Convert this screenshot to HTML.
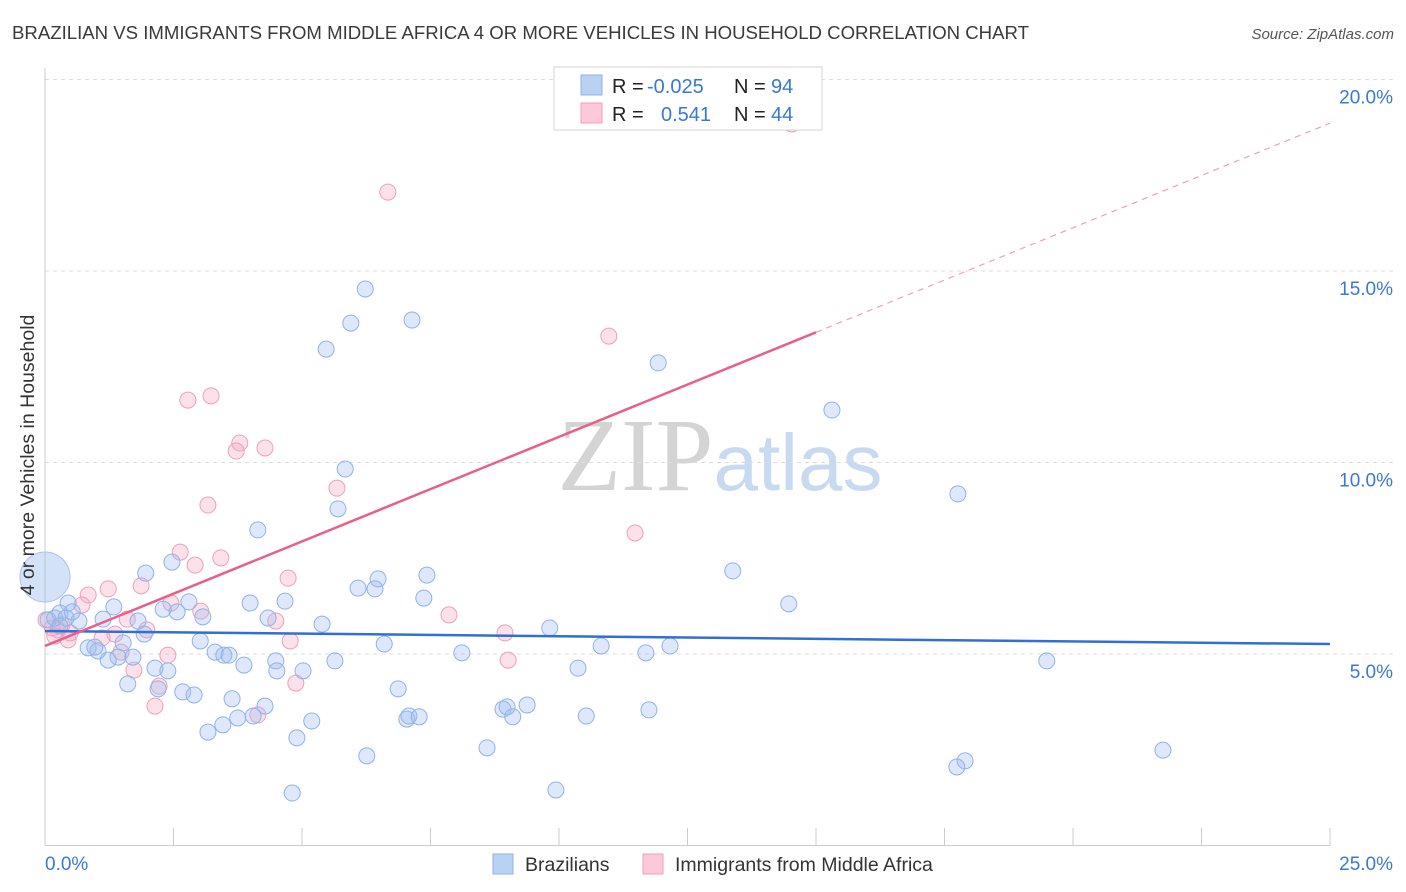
<!DOCTYPE html>
<html><head><meta charset="utf-8">
<style>
body{margin:0;background:#fff;font-family:"Liberation Sans",sans-serif;}
svg{display:block}
</style></head>
<body>
<svg id="chart" width="1406" height="892" xmlns="http://www.w3.org/2000/svg" font-family="Liberation Sans, sans-serif">
<text x="12" y="39" font-size="18.6" fill="#3a3a3a">BRAZILIAN VS IMMIGRANTS FROM MIDDLE AFRICA 4 OR MORE VEHICLES IN HOUSEHOLD CORRELATION CHART</text>
<text x="1394" y="39" font-size="15" fill="#555" text-anchor="end" font-style="italic">Source: ZipAtlas.com</text>
<text x="720" y="490" font-size="104" text-anchor="middle"><tspan fill="#d4d4d4" font-family="Liberation Serif, serif">ZIP</tspan><tspan fill="#c8daf2" font-size="80">atlas</tspan></text>
<g id="grid"></g>
<g id="axes"></g>
<g id="marks"></g>
<text transform="translate(34,455) rotate(-90)" font-size="19.5" fill="#333" text-anchor="middle">4 or more Vehicles in Household</text>
<g>
<rect x="554" y="67" width="268" height="63" fill="#fff" stroke="#d4d4d4"/>
<rect x="581" y="75" width="21" height="20" fill="#b9d2f4" stroke="#8fb3e8"/>
<rect x="581" y="103" width="21" height="20" fill="#fbc9d9" stroke="#f0a0bb"/>
<text x="612" y="93" font-size="20" fill="#222">R = <tspan fill="#3a78d4" x="647">-0.025</tspan></text>
<text x="734" y="93" font-size="20" fill="#222">N = <tspan fill="#3a78d4" x="771">94</tspan></text>
<text x="612" y="121" font-size="20" fill="#222">R = <tspan fill="#3a78d4" x="661">0.541</tspan></text>
<text x="734" y="121" font-size="20" fill="#222">N = <tspan fill="#3a78d4" x="771">44</tspan></text>
</g>
<g>
<rect x="493" y="854" width="20" height="20" fill="#b9d2f4" stroke="#8fb3e8"/>
<text x="525" y="871" font-size="19.5" fill="#333">Brazilians</text>
<rect x="643" y="854" width="20" height="20" fill="#fbc9d9" stroke="#f0a0bb"/>
<text x="675" y="871" font-size="19.5" fill="#333">Immigrants from Middle Africa</text>
</g>
</svg>
<script>
const blueX=[6.23,5.95,7.14,5.47,11.93,15.31,5.84,17.76,5.70,4.14,1.96,2.47,13.38,7.43,6.48,6.09,6.42,7.37,14.47,3.99,4.67,2.80,2.30,1.34,2.57,3.07,0.45,0.29,0.66,1.13,1.81,5.39,4.34,9.82,1.93,3.02,1.52,0.84,1.03,0.97,1.42,1.23,1.71,3.31,3.48,3.58,6.60,8.11,10.82,11.69,12.16,19.49,2.14,2.39,3.87,4.49,5.64,10.37,4.51,5.02,1.61,2.20,2.68,2.90,3.64,4.28,6.87,8.91,8.99,9.38,9.10,11.75,10.53,7.04,7.08,7.28,3.75,4.05,3.46,3.17,5.19,4.90,6.26,8.60,21.75,17.90,17.74,4.81,9.94,0.06,0.19,0.41,0.53,0.29];
const blueY=[14.53,13.64,13.72,12.96,12.60,11.37,9.83,9.18,8.79,8.24,7.11,7.40,7.17,7.06,6.96,6.72,6.70,6.46,6.31,6.33,6.38,6.36,6.17,6.23,6.10,5.97,6.33,6.07,5.86,5.91,5.86,5.78,5.94,5.68,5.52,5.34,5.29,5.16,5.08,5.18,4.92,4.84,4.92,5.05,4.97,4.97,5.26,5.03,5.21,5.03,5.21,4.82,4.63,4.56,4.71,4.82,4.82,4.63,4.56,4.56,4.22,4.09,4.01,3.93,3.83,3.64,4.09,3.56,3.62,3.67,3.36,3.54,3.38,3.30,3.38,3.36,3.33,3.38,3.15,2.96,3.25,2.81,2.34,2.55,2.49,2.21,2.05,1.37,1.45,5.89,5.94,5.94,6.10,5.73];
const bigBubble=[0,7.01];
const pinkX=[14.53,6.67,10.97,3.23,2.78,3.79,3.72,4.28,5.68,3.17,11.48,2.63,3.42,2.92,4.73,1.87,1.23,0.84,0.72,2.45,3.03,4.49,1.60,1.98,1.36,1.11,0.49,0.25,0.14,4.77,7.86,8.95,2.39,1.48,9.01,1.73,2.22,4.88,2.14,4.14,0.45,0.33,0.02,0.19];
const pinkY=[18.84,17.06,13.30,11.74,11.63,10.51,10.30,10.38,9.33,8.89,8.16,7.66,7.51,7.32,6.98,6.78,6.70,6.54,6.28,6.33,6.12,5.86,5.91,5.63,5.52,5.42,5.55,5.63,5.68,5.34,6.02,5.55,4.97,5.05,4.84,4.58,4.16,4.24,3.64,3.41,5.37,5.76,5.89,5.47];
const blueTrend=[5.60,5.26];
const pinkTrend=[5.21,0.546];
const yTicks=[5,10,15,20];
const yTickLabels=["5.0%","10.0%","15.0%","20.0%"];
const xTicks=[0,2.5,5,7.5,10,12.5,15,17.5,20,22.5,25];

const NS="http://www.w3.org/2000/svg";
const X0=45,X1=1330,Y0=845.5,PY=38.3;
const sx=v=>X0+(X1-X0)*v/25;
const sy=v=>Y0-v*PY;
function mk(tag,attrs,parent){const e=document.createElementNS(NS,tag);for(const k in attrs)e.setAttribute(k,attrs[k]);parent.appendChild(e);return e;}
const grid=document.getElementById('grid'),axes=document.getElementById('axes'),marks=document.getElementById('marks');
yTicks.forEach((t,i)=>{
  const l=mk('line',{x1:X0,x2:1394,y1:sy(t),y2:sy(t),stroke:'#dcdcdc','stroke-dasharray':'4,4'},grid);
  
  
  const tx=mk('text',{x:1393,y:sy(t)+24,'font-size':19,fill:'#3a78d4','text-anchor':'end'},axes);
  tx.textContent=yTickLabels[i];
  
  
});
mk('line',{x1:X0,x2:X0,y1:68,y2:Y0,stroke:'#ccc'},axes);
mk('line',{x1:X0,x2:X1,y1:Y0,y2:Y0,stroke:'#ccc'},axes);
xTicks.forEach(t=>{
  const l=mk('line',{x1:sx(t),x2:sx(t),y1:828,y2:Y0,stroke:'#ccc'},axes);
  
  
});
const xl0=mk('text',{x:45,y:870,'font-size':19,fill:'#3a78d4'},axes);xl0.textContent="0.0%";


const xl1=mk('text',{x:1393,y:870,'font-size':19,fill:'#3a78d4','text-anchor':'end'},axes);xl1.textContent="25.0%";



pinkX.forEach((x,i)=>{
  const c=mk('circle',{cx:sx(x),cy:sy(pinkY[i]),r:8,fill:'rgba(245,170,195,0.35)',stroke:'#eea0ba','stroke-width':1},marks);
  
  
});
blueX.forEach((x,i)=>{
  const c=mk('circle',{cx:sx(x),cy:sy(blueY[i]),r:8,fill:'rgba(160,190,240,0.35)',stroke:'#8fb3e8','stroke-width':1},marks);
  
  
});
const bb=mk('circle',{cx:sx(bigBubble[0]),cy:sy(bigBubble[1]),r:25,fill:'rgba(160,190,240,0.45)',stroke:'#a8c4ee'},marks);



const bl=mk('line',{x1:sx(0),y1:sy(blueTrend[0]),x2:sx(25),y2:sy(blueTrend[1]),stroke:'#2f6fd6','stroke-width':2.5},marks);


const pf=v=>pinkTrend[0]+pinkTrend[1]*v;
const pl=mk('line',{x1:sx(0),y1:sy(pf(0)),x2:sx(15),y2:sy(pf(15)),stroke:'#e8608a','stroke-width':2.5},marks);


const pd=mk('line',{x1:sx(15),y1:sy(pf(15)),x2:sx(25),y2:sy(pf(25)),stroke:'#eea0ba','stroke-width':1.2,'stroke-dasharray':'6,5'},marks);


</script>
</body></html>
